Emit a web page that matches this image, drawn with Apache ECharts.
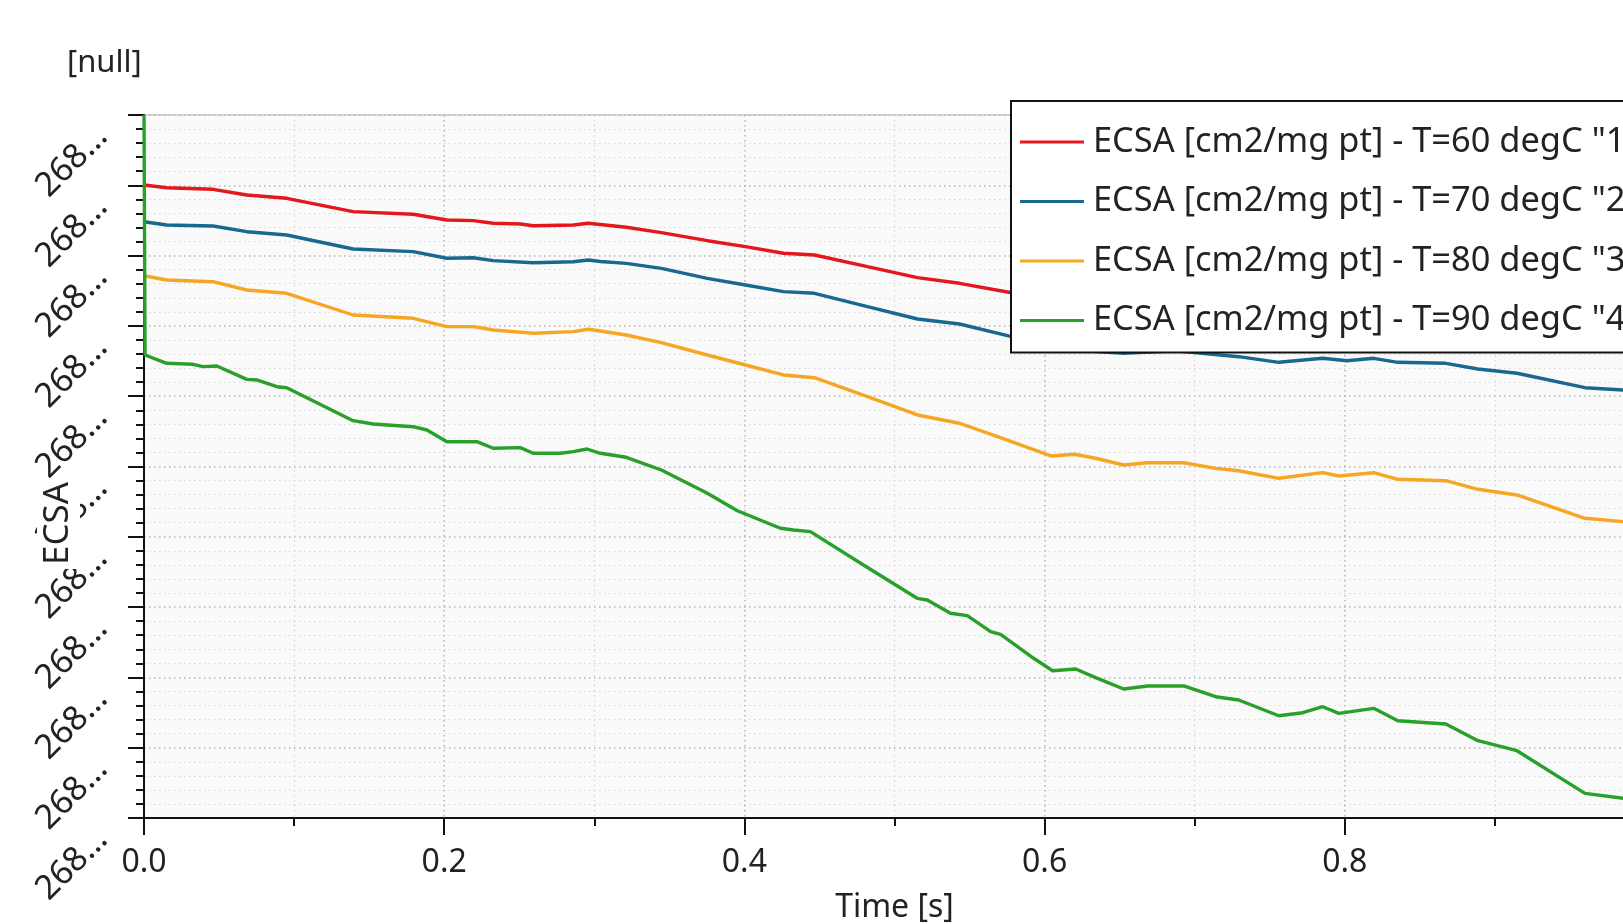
<!DOCTYPE html>
<html>
<head>
<meta charset="utf-8">
<title>ECSA</title>
<script src="https://cdn.jsdelivr.net/npm/echarts@6.0.0/dist/echarts.min.js"></script>
<style>
  html, body { margin: 0; padding: 0; background: #fff; overflow: hidden; }
  #chart { width: 1623px; height: 924px; }
</style>
</head>
<body>
<div id="chart"></div>
<script>
// legend names
const seriesNames = [
  'ECSA [cm2/mg pt] - T=60 degC "1"',
  'ECSA [cm2/mg pt] - T=70 degC "2"',
  'ECSA [cm2/mg pt] - T=80 degC "3"',
  'ECSA [cm2/mg pt] - T=90 degC "4"'
];

// time [s] and ECSA values
const redTime = [0, 0.0151, 0.046, 0.0685, 0.0951, 0.1393, 0.1793, 0.2018, 0.2193, 0.2327, 0.2507, 0.2593, 0.286, 0.296, 0.304, 0.3213, 0.3447, 0.3753, 0.4007, 0.426, 0.4467, 0.482, 0.5153, 0.5433, 0.578, 0.604, 0.6707, 0.7707, 0.8707, 0.9373, 1.0];
const redEcsa = [268.09004, 268.08966, 268.08943, 268.08862, 268.08815, 268.08625, 268.08588, 268.08507, 268.08497, 268.08460, 268.08450, 268.08425, 268.08435, 268.08460, 268.08442, 268.08403, 268.08326, 268.08212, 268.08127, 268.08033, 268.08009, 268.07842, 268.07686, 268.07606, 268.07472, 268.07369, 268.07283, 268.07198, 268.07113, 268.06942, 268.06885];

const blueTime = [0, 0.0151, 0.046, 0.0685, 0.0951, 0.1393, 0.1793, 0.2018, 0.2193, 0.2327, 0.2593, 0.286, 0.296, 0.304, 0.3213, 0.3447, 0.3753, 0.4007, 0.426, 0.4467, 0.482, 0.5153, 0.5433, 0.578, 0.6027, 0.6527, 0.6873, 0.7293, 0.756, 0.7853, 0.8013, 0.8193, 0.8353, 0.8673, 0.8887, 0.9147, 0.96, 0.986, 1.0];
const blueEcsa = [268.08482, 268.08435, 268.08421, 268.08340, 268.08293, 268.08094, 268.08056, 268.07962, 268.07970, 268.07928, 268.07899, 268.07913, 268.07938, 268.07916, 268.07890, 268.07819, 268.07677, 268.07582, 268.07487, 268.07464, 268.07273, 268.07098, 268.07027, 268.06847, 268.06681, 268.06610, 268.06647, 268.06562, 268.06482, 268.06539, 268.06505, 268.06539, 268.06482, 268.06468, 268.06387, 268.06326, 268.06121, 268.06088, 268.06088];

const orangeTime = [0, 0.0151, 0.046, 0.0685, 0.0951, 0.1393, 0.1793, 0.2018, 0.2193, 0.2327, 0.2593, 0.286, 0.296, 0.304, 0.3213, 0.3447, 0.3753, 0.4007, 0.426, 0.4467, 0.482, 0.5153, 0.5433, 0.5687, 0.6047, 0.62, 0.634, 0.6527, 0.6687, 0.6927, 0.714, 0.7293, 0.756, 0.7853, 0.796, 0.8193, 0.8353, 0.8673, 0.8887, 0.9147, 0.96, 0.986, 1.0];
const orangeEcsa = [268.07714, 268.07653, 268.07629, 268.07511, 268.07464, 268.07155, 268.07108, 268.06989, 268.06989, 268.06942, 268.06895, 268.06918, 268.06952, 268.06928, 268.06871, 268.06761, 268.06586, 268.06444, 268.06302, 268.06263, 268.05993, 268.05733, 268.05615, 268.05424, 268.05149, 268.05174, 268.05117, 268.05021, 268.05054, 268.05054, 268.04974, 268.04940, 268.04832, 268.04912, 268.04865, 268.04912, 268.04818, 268.04798, 268.04676, 268.04595, 268.04263, 268.04215, 268.04211];

const greenTime = [0, 0.0007, 0.0151, 0.0327, 0.0393, 0.0485, 0.0685, 0.0751, 0.0885, 0.0951, 0.1393, 0.1527, 0.1793, 0.1885, 0.2018, 0.2218, 0.2327, 0.2507, 0.2593, 0.2773, 0.286, 0.2951, 0.304, 0.3213, 0.3447, 0.3753, 0.3953, 0.424, 0.4327, 0.444, 0.4793, 0.5151, 0.5218, 0.5373, 0.5485, 0.564, 0.5707, 0.5927, 0.6053, 0.6207, 0.634, 0.6527, 0.6687, 0.6927, 0.714, 0.7293, 0.756, 0.772, 0.7853, 0.796, 0.8193, 0.8353, 0.8673, 0.8887, 0.9147, 0.96, 0.986, 1.0];
const greenEcsa = [268.1, 268.06586, 268.06468, 268.06454, 268.06420, 268.06430, 268.06240, 268.06231, 268.06135, 268.06121, 268.05652, 268.05605, 268.05566, 268.05519, 268.05353, 268.05353, 268.05259, 268.05268, 268.05188, 268.05188, 268.05211, 268.05249, 268.05188, 268.05131, 268.04950, 268.04619, 268.04371, 268.04121, 268.04097, 268.04073, 268.03599, 268.03125, 268.03101, 268.02912, 268.02878, 268.02650, 268.02613, 268.02272, 268.02095, 268.02120, 268.01996, 268.01835, 268.01878, 268.01878, 268.01725, 268.01679, 268.01455, 268.01498, 268.01583, 268.01489, 268.01560, 268.01384, 268.01337, 268.01100, 268.00957, 268.00351, 268.00280, 268.00270];

const colors = ['#e3171c', '#18688f', '#f6a623', '#28a02a'];

const fontFamily = '"Noto Sans", "Open Sans", sans-serif';

function pairs(t, v) {
  return t.map((x, i) => [x, v[i]]);
}

const chart = echarts.init(document.getElementById('chart'));

const axisColor = '#111';
const majorGrid = { type: [1.5, 3.5], color: '#b4b4b4', width: 1.5 };
const minorGrid = { type: [1.5, 3.5], color: '#d6d6d6', width: 1.2 };

const option = {
  animation: false,
  backgroundColor: '#fff',
  color: colors,
  textStyle: { fontFamily: fontFamily },
  title: {
    text: '[null]',
    left: 62,
    top: 43,
    textStyle: { fontSize: 31, fontWeight: 'normal', color: '#222', fontFamily: fontFamily }
  },
  legend: {
    orient: 'vertical',
    left: 1011,
    top: 101,
    padding: [24, 12, 15, 9],
    icon: 'rect',
    itemWidth: 64,
    itemHeight: 3,
    itemGap: 25.5,
    backgroundColor: '#fff',
    borderColor: '#111',
    borderWidth: 2,
    borderRadius: 0,
    textStyle: { fontSize: 34.4, color: '#222', padding: [0, 0, 0, 4], fontFamily: fontFamily },
    data: seriesNames
  },
  grid: {
    left: 144,
    top: 115,
    right: -22,
    bottom: 106,
    outerBoundsMode: 'none',
    show: true,
    backgroundColor: '#fafafa',
    borderColor: '#c8c8c8',
    borderWidth: 1.5
  },
  xAxis: {
    type: 'value',
    min: 0,
    max: 1,
    interval: 0.2,
    name: 'Time [s]',
    nameLocation: 'middle',
    nameGap: 74,
    nameMoveOverlap: false,
    nameTextStyle: { fontSize: 32, color: '#222', fontFamily: fontFamily },
    axisLine: { show: true, onZero: false, lineStyle: { color: axisColor, width: 2 } },
    axisTick: { show: true, length: 17, lineStyle: { color: axisColor, width: 2 } },
    minorTick: { show: true, splitNumber: 2, length: 8, lineStyle: { color: axisColor, width: 2 } },
    splitLine: { show: true, lineStyle: majorGrid },
    minorSplitLine: { show: true, lineStyle: minorGrid },
    axisLabel: {
      fontSize: 32,
      color: '#222',
      margin: 29,
      fontFamily: fontFamily,
      formatter: v => v.toFixed(1)
    }
  },
  yAxis: [
    {
      type: 'value',
      position: 'left',
      min: 268.0,
      max: 268.1,
      interval: 0.01,
      axisLine: { show: true, onZero: false, lineStyle: { color: axisColor, width: 2 } },
      axisTick: { show: true, length: 16, lineStyle: { color: axisColor, width: 2 } },
      minorTick: { show: true, splitNumber: 5, length: 8, lineStyle: { color: axisColor, width: 2 } },
      splitLine: { show: true, lineStyle: majorGrid },
      minorSplitLine: { show: true, lineStyle: minorGrid },
      axisLabel: {
        rotate: 45,
        fontSize: 34,
        color: '#222',
        margin: 58,
        verticalAlign: 'top',
        padding: [6, 0, 0, 0],
        fontFamily: fontFamily,
        width: 92,
        overflow: 'truncate',
        ellipsis: '…',
        formatter: v => v.toFixed(4)
      }
    },
    {
      // same scale, only carries the axis name so it sits above the labels
      type: 'value',
      position: 'left',
      offset: 0,
      z: 10,
      min: 268.0,
      max: 268.1,
      interval: 0.01,
      name: '{a|ECSA}{s| }',
      nameLocation: 'middle',
      nameGap: 64,
      nameMoveOverlap: false,
      nameTextStyle: {
        rich: {
          a: { fontSize: 35, color: '#222', backgroundColor: '#fff', padding: [4, 4, 4, 4], fontFamily: fontFamily },
          s: { width: 114, fontSize: 35 }
        }
      },
      axisLine: { show: false },
      axisTick: { show: false },
      axisLabel: { show: false },
      splitLine: { show: false }
    }
  ],
  series: [
    { name: seriesNames[0], type: 'line', data: pairs(redTime, redEcsa) },
    { name: seriesNames[1], type: 'line', data: pairs(blueTime, blueEcsa) },
    { name: seriesNames[2], type: 'line', data: pairs(orangeTime, orangeEcsa) },
    { name: seriesNames[3], type: 'line', data: pairs(greenTime, greenEcsa) }
  ].map(s => Object.assign(s, {
    yAxisIndex: 0,
    symbol: 'none',
    showSymbol: false,
    smooth: false,
    clip: true,
    lineStyle: { width: 3.4 }
  }))
};

chart.setOption(option);
</script>
</body>
</html>
